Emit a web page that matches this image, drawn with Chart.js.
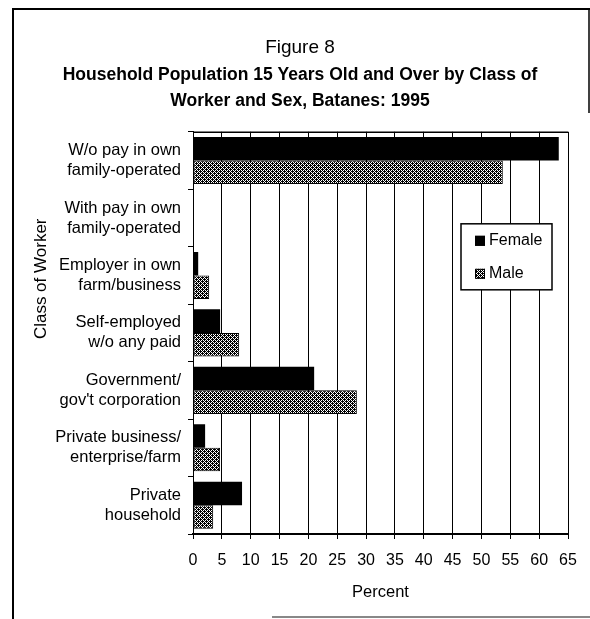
<!DOCTYPE html>
<html>
<head>
<meta charset="utf-8">
<script src="https://cdn.jsdelivr.net/npm/chart.js@4/dist/chart.umd.min.js"></script>
<style>
  html, body { margin: 0; padding: 0; background: #fff; }
  #chart { display: block; }
</style>
</head>
<body>
<canvas id="chart" width="590" height="619"></canvas>
<script>
const categories = [
  ["W/o pay in own", "family-operated"],
  ["With pay in own", "family-operated"],
  ["Employer in own", "farm/business"],
  ["Self-employed", "w/o any paid"],
  ["Government/", "gov't corporation"],
  ["Private business/", "enterprise/farm"],
  ["Private", "household"],
];
const female = [63.4, 0, 0.9, 4.7, 21.0, 2.1, 8.5];
const male = [53.7, 0, 2.8, 8.0, 28.4, 4.7, 3.5];
const seriesNames = ["Female", "Male"];
const xMin = 0, xMax = 65, xStep = 5;

const titleText = "Figure 8";
const subtitleLines = [
  "Household Population 15 Years Old and Over by Class of",
  "Worker and Sex, Batanes: 1995",
];
const yTitle = "Class of Worker";
const xTitle = "Percent";

const FONT = "'Liberation Sans', Arial, sans-serif";

// dotted fill used for the Male bars
function dots() {
  const rows = ["0101", "1000", "0101", "0010"];
  const c = document.createElement("canvas");
  c.width = c.height = 4;
  const g = c.getContext("2d");
  g.fillStyle = "#000";
  g.fillRect(0, 0, 4, 4);
  g.fillStyle = "#fff";
  rows.forEach((r, y) => {
    for (let x = 0; x < 4; x++) if (r[x] === "1") g.fillRect(x, y, 1, 1);
  });
  return g.createPattern(c, "repeat");
}
const malePattern = dots();

// page frame, chart border, y title, legend box
const decor = {
  id: "decor",
  beforeDraw(chart) {
    const ctx = chart.ctx;
    ctx.save();
    ctx.fillStyle = "#fff";
    ctx.fillRect(0, 0, chart.width, chart.height);
    ctx.strokeStyle = "#000";
    ctx.lineWidth = 2;
    ctx.beginPath();
    ctx.moveTo(12, 9); ctx.lineTo(590, 9);
    ctx.moveTo(13, 9); ctx.lineTo(13, 619);
    ctx.stroke();
    ctx.lineWidth = 1.5;
    ctx.beginPath();
    ctx.moveTo(589, 9); ctx.lineTo(589, 113);
    ctx.stroke();
    ctx.strokeStyle = "#888";
    ctx.lineWidth = 2;
    ctx.beginPath();
    ctx.moveTo(272, 617); ctx.lineTo(590, 617);
    ctx.stroke();
    ctx.restore();
  },
  afterDraw(chart) {
    const ctx = chart.ctx;
    const a = chart.chartArea;
    ctx.save();
    ctx.strokeStyle = "#000";
    ctx.lineWidth = 1.5;
    ctx.beginPath();
    ctx.moveTo(a.left, a.top + 0.5); ctx.lineTo(a.right, a.top + 0.5);
    ctx.stroke();

    // y axis title
    ctx.translate(41, a.top + 147);
    ctx.rotate(-Math.PI / 2);
    ctx.fillStyle = "#000";
    ctx.font = "17px " + FONT;
    ctx.textAlign = "center";
    ctx.textBaseline = "middle";
    ctx.fillText(yTitle, 0, 0);
    ctx.restore();

    // legend
    const bx = a.right - 107, by = a.top + 92, bw = 91, bh = 66;
    ctx.save();
    ctx.fillStyle = "#fff";
    ctx.fillRect(bx, by, bw, bh);
    ctx.strokeStyle = "#000";
    ctx.lineWidth = 1.5;
    ctx.strokeRect(bx, by, bw, bh);
    ctx.font = "16px " + FONT;
    ctx.textBaseline = "middle";
    chart.data.datasets.forEach((ds, i) => {
      const cy = by + 17 + i * 33;
      ctx.fillStyle = ds.backgroundColor;
      ctx.fillRect(bx + 14, cy - 5, 10, 10);
      ctx.strokeStyle = "#000";
      ctx.lineWidth = 1;
      ctx.strokeRect(bx + 14.5, cy - 4.5, 9, 9);
      ctx.fillStyle = "#000";
      ctx.fillText(ds.label, bx + 28, cy);
    });
    ctx.restore();
  },
};

new Chart(document.getElementById("chart"), {
  type: "bar",
  data: {
    labels: categories,
    datasets: [
      { label: seriesNames[0], data: female, backgroundColor: "#000", borderColor: "#000", borderWidth: 0 },
      { label: seriesNames[1], data: male, backgroundColor: malePattern, borderColor: "#000", borderWidth: 1, borderSkipped: false },
    ],
  },
  options: {
    indexAxis: "y",
    responsive: false,
    animation: false,
    devicePixelRatio: 1,
    categoryPercentage: 0.82,
    barPercentage: 1.0,
    layout: { padding: { left: 32, right: 22, top: 0, bottom: 17 } },
    scales: {
      x: {
        min: xMin,
        max: xMax,
        ticks: { stepSize: xStep, color: "#000", font: { family: FONT, size: 16 }, padding: 12, maxRotation: 0 },
        grid: { color: "#000", lineWidth: 1, tickLength: 5 },
        border: { color: "#000", width: 2 },
        title: { display: true, text: xTitle, color: "#000", font: { family: FONT, size: 16.5 }, padding: { top: 0, bottom: 0 } },
      },
      y: {
        ticks: { color: "#000", font: { family: FONT, size: 16.5, lineHeight: 1.21 }, padding: 7 },
        grid: { display: true, drawOnChartArea: false, color: "#000", tickLength: 5, offset: true },
        border: { color: "#000", width: 1 },
        afterFit: (s) => { s.width = 161; },
      },
    },
    plugins: {
      legend: { display: false },
      tooltip: { enabled: false },
      title: {
        display: true,
        text: titleText,
        color: "#000",
        font: { family: FONT, size: 19, weight: "normal" },
        padding: { top: 36, bottom: 3 },
      },
      subtitle: {
        display: true,
        text: subtitleLines,
        color: "#000",
        font: { family: FONT, size: 17.5, weight: "bold", lineHeight: 1.486 },
        padding: { top: 0, bottom: 18 },
      },
    },
  },
  plugins: [decor],
});
</script>
</body>
</html>
